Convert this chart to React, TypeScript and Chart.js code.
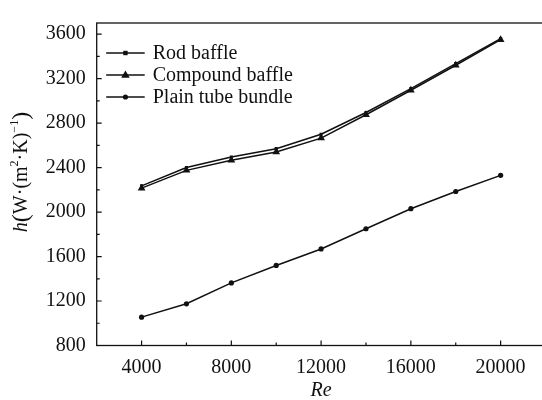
import React, { useEffect, useRef } from 'react';
import { Chart, registerables } from 'chart.js';

Chart.register(...registerables);

// ---- data ----
const reynolds = [4000, 6000, 8000, 10000, 12000, 14000, 16000, 18000, 20000];
const rodBaffle = [2235, 2400, 2495, 2570, 2700, 2895, 3110, 3335, 3560];
const compoundBaffle = [2215, 2375, 2465, 2540, 2665, 2875, 3095, 3320, 3550];
const plainTubeBundle = [1055, 1175, 1363, 1520, 1668, 1850, 2030, 2185, 2330];
const seriesNames = ['Rod baffle', 'Compound baffle', 'Plain tube bundle'];
const xTickValues = [4000, 6000, 8000, 10000, 12000, 14000, 16000, 18000, 20000];
const xLabelValues = [4000, 8000, 12000, 16000, 20000];
const yTickValues = [800, 1000, 1200, 1400, 1600, 1800, 2000, 2200, 2400, 2600, 2800, 3000, 3200, 3400, 3600];
const yLabelValues = [800, 1200, 1600, 2000, 2400, 2800, 3200, 3600];
const xTitle = 'Re';
const yTitleParts = [
  { text: 'h', italic: true, size: 20, rise: 0 },
  { text: '(', italic: false, size: 24, rise: 0 },
  { text: 'W·(m', italic: false, size: 20, rise: 0 },
  { text: '2', italic: false, size: 12, rise: -7 },
  { text: '·K)', italic: false, size: 20, rise: 0 },
  { text: '\u22121', italic: false, size: 12, rise: -7 },
  { text: ')', italic: false, size: 24, rise: 0 },
];

const FONT = '"Liberation Serif", "Times New Roman", serif';
const INK = '#111';

function drawMarker(ctx: CanvasRenderingContext2D, style: string, x: number, y: number, r: number) {
  ctx.beginPath();
  if (style === 'rect') {
    ctx.rect(x - r, y - r, 2 * r, 2 * r);
  } else if (style === 'triangle') {
    ctx.moveTo(x, y - r);
    ctx.lineTo(x + r * 0.95, y + r * 0.6);
    ctx.lineTo(x - r * 0.95, y + r * 0.6);
    ctx.closePath();
  } else {
    ctx.arc(x, y, r, 0, Math.PI * 2);
  }
  ctx.fill();
}

const decorPlugin = {
  id: 'decor',
  afterDraw(chart: any) {
    const { ctx, chartArea } = chart;
    const { left, right, top, bottom } = chartArea;
    const xs = chart.scales.x;
    const ys = chart.scales.y;
    ctx.save();
    ctx.strokeStyle = INK;
    ctx.fillStyle = INK;
    ctx.lineWidth = 1.3;
    ctx.strokeRect(left, top, right - left, bottom - top);

    // inward ticks
    ctx.lineWidth = 1.2;
    ctx.beginPath();
    xTickValues.forEach((v) => {
      const px = xs.getPixelForValue(v);
      const len = xLabelValues.includes(v) ? 5 : 3;
      ctx.moveTo(px, bottom);
      ctx.lineTo(px, bottom - len);
    });
    yTickValues.forEach((v) => {
      const py = ys.getPixelForValue(v);
      const len = yLabelValues.includes(v) ? 5 : 3;
      ctx.moveTo(left, py);
      ctx.lineTo(left + len, py);
    });
    ctx.stroke();

    // legend
    const styles = ['rect', 'triangle', 'circle'];
    const radii = [2.2, 4.5, 2.6];
    const x0 = left + 9.5;
    const x1 = left + 48;
    ctx.font = `20px ${FONT}`;
    ctx.textBaseline = 'middle';
    ctx.textAlign = 'left';
    seriesNames.forEach((name, i) => {
      const y = top + 30 + i * 22;
      ctx.lineWidth = 1.5;
      ctx.beginPath();
      ctx.moveTo(x0, y);
      ctx.lineTo(x1, y);
      ctx.stroke();
      drawMarker(ctx, styles[i], (x0 + x1) / 2, y, radii[i]);
      ctx.fillText(name, left + 56, y + 1);
    });

    // x title
    ctx.font = `italic 20px ${FONT}`;
    ctx.textAlign = 'center';
    ctx.fillText(xTitle, (left + right) / 2, bottom + 45);

    // y title (rotated, with italic h and superscripts)
    ctx.translate(22, 172);
    ctx.rotate(-Math.PI / 2);
    const fontFor = (p: any) => `${p.italic ? 'italic ' : ''}${p.size}px ${FONT}`;
    let total = 0;
    yTitleParts.forEach((p) => {
      ctx.font = fontFor(p);
      total += ctx.measureText(p.text).width;
    });
    let cx = -total / 2;
    ctx.textAlign = 'left';
    yTitleParts.forEach((p) => {
      ctx.font = fontFor(p);
      ctx.fillText(p.text, cx, p.rise);
      cx += ctx.measureText(p.text).width;
    });
    ctx.restore();
  },
};

export default function App() {
  const canvasRef = useRef<HTMLCanvasElement | null>(null);

  useEffect(() => {
    if (!canvasRef.current) return;
    const mk = (vals: number[]) => reynolds.map((x, i) => ({ x, y: vals[i] }));
    const chart = new Chart(canvasRef.current, {
      type: 'line',
      data: {
        datasets: [
          {
            label: seriesNames[0],
            data: mk(rodBaffle),
            borderColor: INK,
            backgroundColor: INK,
            borderWidth: 1.5,
            pointStyle: 'rect',
            pointRadius: 2.2,
            pointBackgroundColor: INK,
            pointBorderWidth: 0,
            tension: 0,
          },
          {
            label: seriesNames[1],
            data: mk(compoundBaffle),
            borderColor: INK,
            backgroundColor: INK,
            borderWidth: 1.5,
            pointStyle: 'triangle',
            pointRadius: 4.5,
            pointBackgroundColor: INK,
            pointBorderWidth: 0,
            tension: 0,
          },
          {
            label: seriesNames[2],
            data: mk(plainTubeBundle),
            borderColor: INK,
            backgroundColor: INK,
            borderWidth: 1.5,
            pointStyle: 'circle',
            pointRadius: 2.6,
            pointBackgroundColor: INK,
            pointBorderWidth: 0,
            tension: 0,
          },
        ],
      },
      options: {
        animation: false,
        responsive: false,
        layout: { padding: { left: 0, top: 11.7, right: 14.5, bottom: 0 } },
        plugins: { legend: { display: false }, tooltip: { enabled: false } },
        scales: {
          x: {
            type: 'linear',
            min: 2000,
            max: 22000,
            afterBuildTicks: (scale: any) => {
              scale.ticks = xLabelValues.map((v) => ({ value: v }));
            },
            afterFit: (scale: any) => {
              scale.height = 54.5;
            },
            grid: { display: false, drawTicks: false },
            border: { display: false },
            ticks: {
              autoSkip: false,
              maxRotation: 0,
              padding: 10,
              color: INK,
              font: { family: FONT, size: 20 },
              callback: (v: any) => String(v),
            },
          },
          y: {
            type: 'linear',
            min: 800,
            max: 3700,
            afterBuildTicks: (scale: any) => {
              scale.ticks = yLabelValues.map((v) => ({ value: v }));
            },
            afterFit: (scale: any) => {
              scale.width = 96.7;
            },
            grid: { display: false, drawTicks: false },
            border: { display: false },
            ticks: {
              autoSkip: false,
              padding: 11,
              color: INK,
              font: { family: FONT, size: 20 },
              callback: (v: any) => String(v),
            },
          },
        },
      },
      plugins: [decorPlugin],
    } as any);
    return () => chart.destroy();
  }, []);

  return (
    <div style={{ position: 'fixed', left: 0, top: 0, width: 542, height: 400, overflow: 'hidden', background: '#fff' }}>
      <canvas ref={canvasRef} width={560} height={400} style={{ width: 560, height: 400, display: 'block' }} />
    </div>
  );
}
